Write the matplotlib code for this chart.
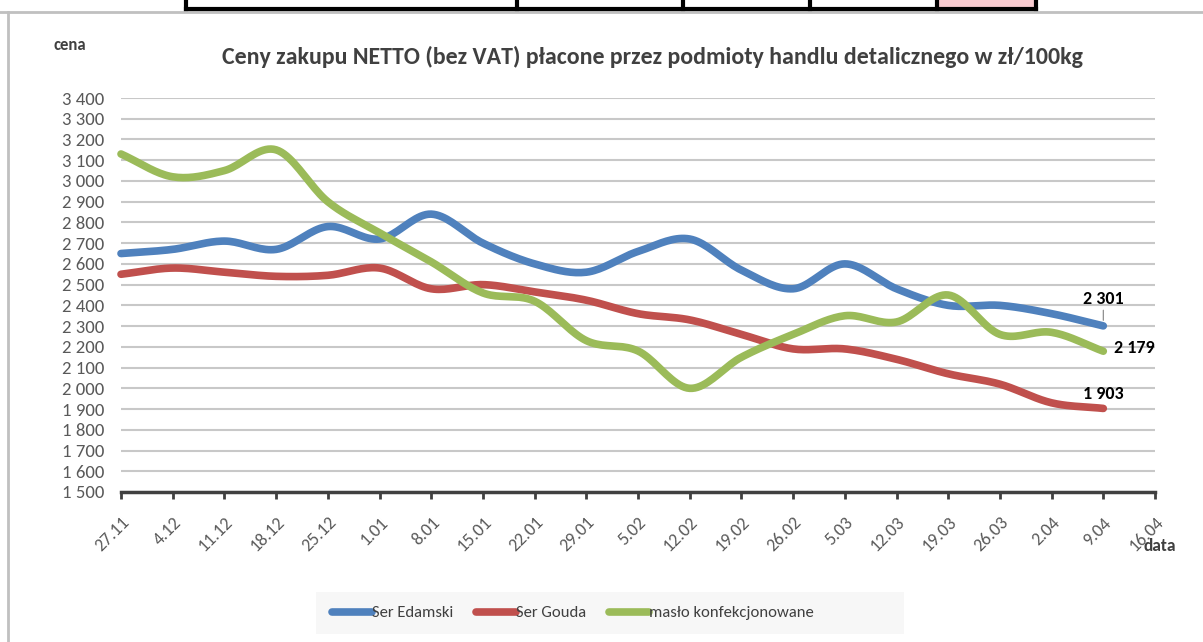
import numpy as np
import matplotlib
matplotlib.use("Agg")
import matplotlib.pyplot as plt
from matplotlib.patches import Rectangle
from matplotlib.lines import Line2D

plt.rcParams['font.family'] = ['Carlito', 'Open Sans', 'DejaVu Sans']

dates = ["27.11", "4.12", "11.12", "18.12", "25.12", "1.01", "8.01", "15.01", "22.01",
         "29.01", "5.02", "12.02", "19.02", "26.02", "5.03", "12.03", "19.03", "26.03",
         "2.04", "9.04", "16.04"]

edamski = [2650, 2670, 2710, 2670, 2780, 2720, 2840, 2700, 2600, 2560, 2660, 2720,
           2570, 2480, 2600, 2480, 2400, 2400, 2360, 2301]
gouda = [2550, 2580, 2560, 2540, 2545, 2580, 2480, 2500, 2465, 2425, 2360, 2330,
         2260, 2190, 2190, 2140, 2070, 2020, 1930, 1903]
maslo = [3130, 3020, 3050, 3150, 2900, 2750, 2610, 2460, 2420, 2230, 2180, 2000,
         2150, 2260, 2350, 2320, 2450, 2260, 2270, 2179]

series = [("Ser Edamski", edamski, "#4F81BD"),
          ("Ser Gouda", gouda, "#C0504D"),
          ("masło konfekcjonowane", maslo, "#9BBB59")]


def smooth(y, n=20):
    # Catmull-Rom curve through the points, like Excel's smoothed line
    y = np.asarray(y, dtype=float)
    x = np.arange(len(y), dtype=float)
    px = np.concatenate([[2 * x[0] - x[1]], x, [2 * x[-1] - x[-2]]])
    py = np.concatenate([[2 * y[0] - y[1]], y, [2 * y[-1] - y[-2]]])
    xs, ys = [], []
    t = np.linspace(0, 1, n, endpoint=False)
    for i in range(1, len(px) - 2):
        for p, out in ((px, xs), (py, ys)):
            p0, p1, p2, p3 = p[i - 1], p[i], p[i + 1], p[i + 2]
            out.extend(0.5 * (2 * p1 + (-p0 + p2) * t + (2 * p0 - 5 * p1 + 4 * p2 - p3) * t ** 2
                              + (-p0 + 3 * p1 - 3 * p2 + p3) * t ** 3))
    xs.append(x[-1])
    ys.append(y[-1])
    return np.array(xs), np.array(ys)


W, H = 1203, 642
fig = plt.figure(figsize=(W / 100, H / 100), dpi=100)
fig.patch.set_facecolor("white")

# bits of the sheet around the chart
fig.add_artist(Line2D([0, 1], [1 - 12 / H] * 2, color="#C0C0C0", lw=2))
fig.add_artist(Line2D([8 / W] * 2, [0, 1 - 12 / H], color="#C0C0C0", lw=2))
fig.add_artist(Rectangle((937 / W, 1 - 10 / H), 99 / W, 10 / H, facecolor="#F8CBD0", edgecolor="none"))
fig.add_artist(Line2D([186 / W, 1036 / W], [1 - 9 / H] * 2, color="black", lw=3))
for xv in [186, 517, 683, 810, 937, 1036]:
    fig.add_artist(Line2D([xv / W] * 2, [1 - 9 / H, 1], color="black", lw=3))

ax = fig.add_axes([121 / W, 1 - 492 / H, (1155 - 121) / W, (492 - 98) / H])
ax.set_xlim(0, len(dates) - 1)
ax.set_ylim(1500, 3400)

yt = np.arange(1500, 3401, 100)
ax.set_yticks(yt)
ax.set_yticklabels([f"{v:,}".replace(",", " ") for v in yt], fontsize=13.5, color="#595959")
ax.set_xticks(range(len(dates)))
ax.set_xticklabels(dates, rotation=45, ha="right", rotation_mode="anchor", fontsize=13, color="#595959")
ax.tick_params(axis="y", length=0, pad=12)
ax.tick_params(axis="x", length=5, width=2, color="#404040", direction="out", pad=11)
ax.grid(axis="y", color="#C8C8C8", lw=1.5)
ax.set_axisbelow(True)
for s in ["top", "right", "left"]:
    ax.spines[s].set_visible(False)
ax.spines["bottom"].set_color("#404040")
ax.spines["bottom"].set_linewidth(2.5)

for name, vals, col in series:
    sx, sy = smooth(vals)
    ax.plot(sx, sy, color=col, lw=5.5, solid_capstyle="round", label=name, clip_on=False)

last = len(edamski) - 1
ax.annotate("2 301", xy=(last, edamski[-1]), xytext=(last, 2390), ha="center", va="bottom",
            fontsize=13, fontweight="bold", color="black",
            arrowprops=dict(arrowstyle="-", color="#808080", lw=0.8, shrinkA=0, shrinkB=4))
ax.text(last + 0.2, maslo[-1] + 15, "2 179", ha="left", va="center", fontsize=13,
        fontweight="bold", color="black")
ax.text(last, gouda[-1] + 30, "1 903", ha="center", va="bottom", fontsize=13,
        fontweight="bold", color="black")

fig.text(652 / W, 1 - 57 / H, "Ceny zakupu NETTO (bez VAT) płacone przez podmioty handlu detalicznego w zł/100kg",
         ha="center", va="center", fontsize=17.2, fontweight="bold", color="#404040")
fig.text(70 / W, 1 - 45 / H, "cena", ha="center", va="center", fontsize=12, fontweight="bold", color="#404040")
fig.text(1160 / W, 1 - 546 / H, "data", ha="center", va="center", fontsize=12.5, fontweight="bold", color="#404040")

fig.add_artist(Rectangle((316 / W, 1 - 634 / H), (904 - 316) / W, 42 / H,
                         facecolor="#F7F7F7", edgecolor="none"))
leg = fig.legend(loc="center", bbox_to_anchor=(573 / W, 1 - 613 / H), ncol=3, frameon=False,
                 fontsize=12, handlelength=2.4, handletextpad=0.0, columnspacing=1.35)
for t in leg.get_texts():
    t.set_color("#404040")

fig.savefig("out.png", dpi=100)
